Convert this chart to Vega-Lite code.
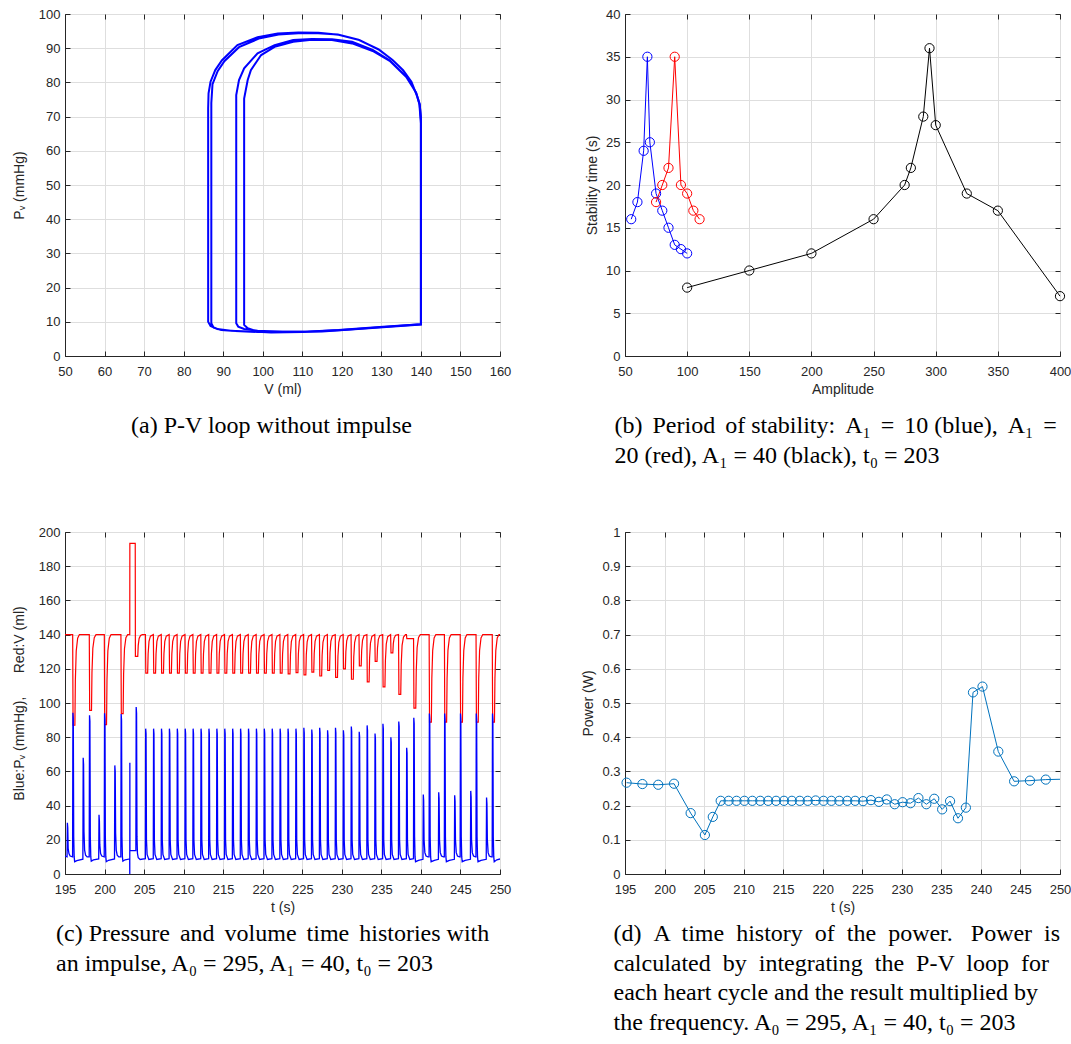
{
  "$schema": "https://vega.github.io/schema/vega-lite/v6.json",
  "padding": {"left": 11, "top": 7, "right": 0, "bottom": 0},
  "datasets": {
    "a1": [
      {"V":140,"P":9.3},{"V":140,"P":70},{"V":139.7,"P":73.6},{"V":139.1,"P":75.8},{"V":137.6,"P":80.2},{"V":135.5,"P":83.6},{"V":132.9,"P":86.5},{"V":129.5,"P":89.5},{"V":124.4,"P":92.4},{"V":119.2,"P":93.9},{"V":114.1,"P":94.5},{"V":109,"P":94.6},{"V":103.8,"P":94.3},{"V":98.7,"P":93.2},{"V":93.6,"P":90.9},{"V":89.7,"P":86.5},{"V":88,"P":83.6},{"V":86.8,"P":80.2},{"V":86.3,"P":76.8},{"V":86.2,"P":72.4},{"V":86.2,"P":10},{"V":86.8,"P":8.8},{"V":88.5,"P":7.9},{"V":91.9,"P":7.4},{"V":97.9,"P":7.1},{"V":110.7,"P":7.1},{"V":119.2,"P":7.6},{"V":129.5,"P":8.5},{"V":140,"P":9.3},
      {"V":140,"P":68},{"V":139.6,"P":73.8},{"V":138.9,"P":76.5},{"V":137.4,"P":80.5},{"V":135.3,"P":83.8},{"V":132.6,"P":86.8},{"V":129.2,"P":89.7},{"V":124.2,"P":92.5},{"V":119,"P":94},{"V":114,"P":94.4},{"V":109,"P":94.4},{"V":104,"P":94},{"V":99,"P":92.8},{"V":94,"P":90.3},{"V":90.3,"P":86.2},{"V":88.6,"P":83.3},{"V":87.3,"P":79.5},{"V":87,"P":74},{"V":87,"P":65},{"V":87,"P":9.6},{"V":87.6,"P":8.3},{"V":89.5,"P":7.6},{"V":93,"P":7.3},{"V":99,"P":7},{"V":110,"P":7},{"V":120,"P":7.6},{"V":130,"P":8.5},{"V":140,"P":9.3}
    ],
    "a2": [
      {"V":140,"P":9.3},{"V":140,"P":69},{"V":139.7,"P":73.5},{"V":138.8,"P":77},{"V":136.3,"P":81.7},{"V":132.1,"P":86.5},{"V":127.8,"P":89.5},{"V":122.6,"P":91.9},{"V":117.5,"P":92.6},{"V":112.4,"P":92.7},{"V":107.7,"P":92.4},{"V":103,"P":90.9},{"V":98.7,"P":88.5},{"V":95.3,"P":84.1},{"V":94,"P":80.7},{"V":93.3,"P":76.3},{"V":93.3,"P":9.6},{"V":93.8,"P":8.6},{"V":95.3,"P":7.9},{"V":98.7,"P":7.4},{"V":105,"P":7.1},{"V":115,"P":7.2},{"V":125,"P":8},{"V":140,"P":9.2},
      {"V":140,"P":69},{"V":139.7,"P":73.4},{"V":138.8,"P":77},{"V":136.3,"P":81.6},{"V":132.1,"P":86.3},{"V":127.8,"P":89.2},{"V":122.6,"P":91.4},{"V":117.5,"P":92.4},{"V":112.4,"P":92.5},{"V":107.7,"P":91.9},{"V":103,"P":90.4},{"V":99.6,"P":88},{"V":97,"P":83.6},{"V":96.2,"P":80.7},{"V":95.3,"P":75.3},{"V":95.3,"P":9.1},{"V":96.2,"P":8.1},{"V":98.7,"P":7.1},{"V":102.1,"P":6.9},{"V":110,"P":7},{"V":120,"P":7.6},{"V":130,"P":8.4},{"V":140,"P":9.3}
    ],
    "b": [
      {"A":55,"T":16,"s":"b"},{"A":60,"T":18,"s":"b"},{"A":65,"T":24,"s":"b"},{"A":68,"T":35,"s":"b"},{"A":70,"T":25,"s":"b"},{"A":75,"T":19,"s":"b"},{"A":80,"T":17,"s":"b"},{"A":85,"T":15,"s":"b"},{"A":90,"T":13,"s":"b"},{"A":95,"T":12.5,"s":"b"},{"A":100,"T":12,"s":"b"},
      {"A":75,"T":18,"s":"r"},{"A":80,"T":20,"s":"r"},{"A":85,"T":22,"s":"r"},{"A":90,"T":35,"s":"r"},{"A":95,"T":20,"s":"r"},{"A":100,"T":19,"s":"r"},{"A":105,"T":17,"s":"r"},{"A":110,"T":16,"s":"r"},
      {"A":100,"T":8,"s":"k"},{"A":150,"T":10,"s":"k"},{"A":200,"T":12,"s":"k"},{"A":250,"T":16,"s":"k"},{"A":275,"T":20,"s":"k"},{"A":280,"T":22,"s":"k"},{"A":290,"T":28,"s":"k"},{"A":295,"T":36,"s":"k"},{"A":300,"T":27,"s":"k"},{"A":325,"T":19,"s":"k"},{"A":350,"T":17,"s":"k"},{"A":400,"T":7,"s":"k"}
    ],
    "cv": [
      {"t":195,"v":140},{"t":195.97,"v":140},{"t":196.02,"v":87},{"t":196.25,"v":87},{"t":196.31,"v":113.5},{"t":196.42,"v":130.5},{"t":196.6,"v":137.9},{"t":196.82,"v":140},
      {"t":198.07,"v":140},{"t":198.12,"v":95.7},{"t":198.35,"v":95.7},{"t":198.41,"v":117.9},{"t":198.52,"v":132},{"t":198.7,"v":138.2},{"t":198.92,"v":140},
      {"t":199.97,"v":140},{"t":200.02,"v":87.3},{"t":200.25,"v":87.3},{"t":200.31,"v":113.7},{"t":200.42,"v":130.5},{"t":200.6,"v":137.9},{"t":200.82,"v":140},
      {"t":202.07,"v":140},{"t":202.12,"v":93.8},{"t":202.35,"v":93.8},{"t":202.41,"v":116.9},{"t":202.52,"v":131.7},{"t":202.7,"v":138.2},{"t":202.92,"v":140},
      {"t":203.19,"v":140},{"t":203.2,"v":193.4},{"t":203.88,"v":193.4},{"t":203.9,"v":127.3},{"t":204.2,"v":127.3},{"t":204.26,"v":133.7},{"t":204.37,"v":137.7},{"t":204.55,"v":139.5},{"t":204.77,"v":140},
      {"t":205.17,"v":140},{"t":205.22,"v":117.5},{"t":205.45,"v":117.5},{"t":205.51,"v":128.8},{"t":205.62,"v":136},{"t":205.8,"v":139.1},
      {"t":206.17,"v":140},{"t":206.22,"v":117.5},{"t":206.45,"v":117.5},{"t":206.51,"v":128.8},{"t":206.62,"v":136},{"t":206.8,"v":139.1},
      {"t":207.17,"v":140},{"t":207.22,"v":117.5},{"t":207.45,"v":117.5},{"t":207.51,"v":128.8},{"t":207.62,"v":136},{"t":207.8,"v":139.1},
      {"t":208.17,"v":140},{"t":208.22,"v":117.5},{"t":208.45,"v":117.5},{"t":208.51,"v":128.8},{"t":208.62,"v":136},{"t":208.8,"v":139.1},
      {"t":209.17,"v":140},{"t":209.22,"v":117.5},{"t":209.45,"v":117.5},{"t":209.51,"v":128.8},{"t":209.62,"v":136},{"t":209.8,"v":139.1},
      {"t":210.17,"v":140},{"t":210.22,"v":117.5},{"t":210.45,"v":117.5},{"t":210.51,"v":128.8},{"t":210.62,"v":136},{"t":210.8,"v":139.1},
      {"t":211.17,"v":140},{"t":211.22,"v":117.5},{"t":211.45,"v":117.5},{"t":211.51,"v":128.8},{"t":211.62,"v":136},{"t":211.8,"v":139.1},
      {"t":212.17,"v":140},{"t":212.22,"v":117.5},{"t":212.45,"v":117.5},{"t":212.51,"v":128.8},{"t":212.62,"v":136},{"t":212.8,"v":139.1},
      {"t":213.17,"v":140},{"t":213.22,"v":117.5},{"t":213.45,"v":117.5},{"t":213.51,"v":128.8},{"t":213.62,"v":136},{"t":213.8,"v":139.1},
      {"t":214.17,"v":140},{"t":214.22,"v":117.5},{"t":214.45,"v":117.5},{"t":214.51,"v":128.8},{"t":214.62,"v":136},{"t":214.8,"v":139.1},
      {"t":215.17,"v":140},{"t":215.22,"v":117.5},{"t":215.45,"v":117.5},{"t":215.51,"v":128.8},{"t":215.62,"v":136},{"t":215.8,"v":139.1},
      {"t":216.17,"v":140},{"t":216.22,"v":117.5},{"t":216.45,"v":117.5},{"t":216.51,"v":128.8},{"t":216.62,"v":136},{"t":216.8,"v":139.1},
      {"t":217.17,"v":140},{"t":217.22,"v":117.5},{"t":217.45,"v":117.5},{"t":217.51,"v":128.8},{"t":217.62,"v":136},{"t":217.8,"v":139.1},
      {"t":218.17,"v":140},{"t":218.22,"v":117.5},{"t":218.45,"v":117.5},{"t":218.51,"v":128.8},{"t":218.62,"v":136},{"t":218.8,"v":139.1},
      {"t":219.17,"v":140},{"t":219.22,"v":117.5},{"t":219.45,"v":117.5},{"t":219.51,"v":128.8},{"t":219.62,"v":136},{"t":219.8,"v":139.1},
      {"t":220.17,"v":140},{"t":220.22,"v":117.5},{"t":220.45,"v":117.5},{"t":220.51,"v":128.8},{"t":220.62,"v":136},{"t":220.8,"v":139.1},
      {"t":221.17,"v":140},{"t":221.22,"v":117.5},{"t":221.45,"v":117.5},{"t":221.51,"v":128.8},{"t":221.62,"v":136},{"t":221.8,"v":139.1},
      {"t":222.17,"v":140},{"t":222.22,"v":117.5},{"t":222.45,"v":117.5},{"t":222.51,"v":128.8},{"t":222.62,"v":136},{"t":222.8,"v":139.1},
      {"t":223.17,"v":140},{"t":223.22,"v":117},{"t":223.45,"v":117},{"t":223.51,"v":128.5},{"t":223.62,"v":135.9},{"t":223.8,"v":139.1},
      {"t":224.17,"v":140},{"t":224.22,"v":117.8},{"t":224.45,"v":117.8},{"t":224.51,"v":128.9},{"t":224.62,"v":136},{"t":224.8,"v":139.1},
      {"t":225.17,"v":140},{"t":225.22,"v":116.5},{"t":225.45,"v":116.5},{"t":225.51,"v":128.3},{"t":225.62,"v":135.8},{"t":225.8,"v":139.1},
      {"t":226.17,"v":140},{"t":226.22,"v":118},{"t":226.45,"v":118},{"t":226.51,"v":129},{"t":226.62,"v":136},{"t":226.8,"v":139.1},
      {"t":227.17,"v":140},{"t":227.22,"v":115.8},{"t":227.45,"v":115.8},{"t":227.51,"v":127.9},{"t":227.62,"v":135.6},{"t":227.8,"v":139},
      {"t":228.17,"v":140},{"t":228.22,"v":119},{"t":228.45,"v":119},{"t":228.51,"v":129.5},{"t":228.62,"v":136.2},{"t":228.8,"v":139.2},
      {"t":229.17,"v":140},{"t":229.22,"v":115},{"t":229.45,"v":115},{"t":229.51,"v":127.5},{"t":229.62,"v":135.5},{"t":229.8,"v":139},
      {"t":230.17,"v":140},{"t":230.22,"v":120},{"t":230.45,"v":120},{"t":230.51,"v":130},{"t":230.62,"v":136.4},{"t":230.8,"v":139.2},
      {"t":231.17,"v":140},{"t":231.22,"v":113.9},{"t":231.45,"v":113.9},{"t":231.51,"v":127},{"t":231.62,"v":135.3},{"t":231.8,"v":139},
      {"t":232.17,"v":140},{"t":232.22,"v":121.7},{"t":232.45,"v":121.7},{"t":232.51,"v":130.9},{"t":232.62,"v":136.7},{"t":232.8,"v":139.3},
      {"t":233.17,"v":140},{"t":233.22,"v":112.3},{"t":233.45,"v":112.3},{"t":233.51,"v":126.2},{"t":233.62,"v":135},{"t":233.8,"v":138.9},
      {"t":234.17,"v":140},{"t":234.22,"v":124.4},{"t":234.45,"v":124.4},{"t":234.51,"v":132.2},{"t":234.62,"v":137.2},{"t":234.8,"v":139.4},
      {"t":235.17,"v":140},{"t":235.22,"v":109.4},{"t":235.45,"v":109.4},{"t":235.51,"v":124.7},{"t":235.62,"v":134.5},{"t":235.8,"v":138.8},
      {"t":236.17,"v":140},{"t":236.22,"v":129.3},{"t":236.45,"v":129.3},{"t":236.51,"v":134.7},{"t":236.62,"v":138.1},{"t":236.8,"v":139.6},
      {"t":237.17,"v":140},{"t":237.22,"v":105.1},{"t":237.45,"v":105.1},{"t":237.51,"v":122.6},{"t":237.62,"v":133.7},{"t":237.8,"v":138.6},
      {"t":238.05,"v":140},{"t":238.17,"v":140},{"t":238.22,"v":137.7},{"t":239.07,"v":137.7},{"t":239.12,"v":97},{"t":239.35,"v":97},{"t":239.41,"v":118.5},{"t":239.52,"v":132.3},{"t":239.7,"v":138.3},{"t":239.92,"v":140},
      {"t":241.04,"v":140},{"t":241.09,"v":88.8},{"t":241.32,"v":88.8},{"t":241.38,"v":114.4},{"t":241.49,"v":130.8},{"t":241.67,"v":138},{"t":241.89,"v":140},
      {"t":242.97,"v":140},{"t":243.02,"v":88.8},{"t":243.25,"v":88.8},{"t":243.31,"v":114.4},{"t":243.42,"v":130.8},{"t":243.6,"v":138},{"t":243.82,"v":140},
      {"t":244.97,"v":140},{"t":245.02,"v":88.8},{"t":245.25,"v":88.8},{"t":245.31,"v":114.4},{"t":245.42,"v":130.8},{"t":245.6,"v":138},{"t":245.82,"v":140},
      {"t":246.97,"v":140},{"t":247.02,"v":88.8},{"t":247.25,"v":88.8},{"t":247.31,"v":114.4},{"t":247.42,"v":130.8},{"t":247.6,"v":138},{"t":247.82,"v":140},
      {"t":249.02,"v":140},{"t":249.07,"v":88.8},{"t":249.3,"v":88.8},{"t":249.36,"v":114.4},{"t":249.47,"v":130.8},{"t":249.65,"v":138},{"t":249.87,"v":140},
      {"t":250,"v":140}
    ],
    "cp": [
      {"t":195,"p":10.5},{"t":195.26,"p":10},{"t":195.3,"p":30},{"t":195.35,"p":27},{"t":195.4,"p":15},{"t":195.5,"p":12},{"t":195.65,"p":10.5},{"t":195.96,"p":10},
      {"t":196,"p":94.3},{"t":196.05,"p":91},{"t":196.1,"p":22},{"t":196.16,"p":10},{"t":196.22,"p":7.2},{"t":196.5,"p":7.8},
      {"t":197.26,"p":8.7},{"t":197.3,"p":68},{"t":197.35,"p":64},{"t":197.4,"p":25},{"t":197.48,"p":14},{"t":197.6,"p":11},{"t":197.8,"p":10},
      {"t":198.06,"p":10},{"t":198.1,"p":92.8},{"t":198.15,"p":89.5},{"t":198.2,"p":22},{"t":198.26,"p":10},{"t":198.32,"p":7.5},{"t":198.6,"p":8.2},
      {"t":199.26,"p":8.8},{"t":199.3,"p":34.6},{"t":199.35,"p":31},{"t":199.4,"p":17},{"t":199.5,"p":12},{"t":199.65,"p":10.5},{"t":199.96,"p":10},
      {"t":200,"p":94},{"t":200.05,"p":90.5},{"t":200.1,"p":22},{"t":200.16,"p":10},{"t":200.22,"p":7.2},{"t":200.5,"p":8},
      {"t":201.26,"p":8.8},{"t":201.3,"p":63.5},{"t":201.35,"p":60},{"t":201.4,"p":24},{"t":201.48,"p":14},{"t":201.6,"p":11},{"t":201.8,"p":10},
      {"t":202.06,"p":10},{"t":202.1,"p":93.5},{"t":202.15,"p":90},{"t":202.2,"p":22},{"t":202.26,"p":10},{"t":202.32,"p":7.5},{"t":202.6,"p":8.3},
      {"t":203.18,"p":8.8},{"t":203.19,"p":0},{"t":203.2,"p":65},{"t":203.21,"p":13.7},{"t":203.96,"p":13.7},
      {"t":204,"p":97.6},{"t":204.05,"p":94},{"t":204.1,"p":22},{"t":204.16,"p":12},{"t":204.26,"p":9.5},{"t":204.5,"p":8.5},
      {"t":205.16,"p":9},{"t":205.2,"p":85},{"t":205.25,"p":82},{"t":205.3,"p":20},{"t":205.38,"p":11.5},{"t":205.6,"p":8.5},
      {"t":206.16,"p":9},{"t":206.2,"p":85},{"t":206.25,"p":82},{"t":206.3,"p":20},{"t":206.38,"p":11.5},{"t":206.6,"p":8.5},
      {"t":207.16,"p":9},{"t":207.2,"p":85},{"t":207.25,"p":82},{"t":207.3,"p":20},{"t":207.38,"p":11.5},{"t":207.6,"p":8.5},
      {"t":208.16,"p":9},{"t":208.2,"p":85},{"t":208.25,"p":82},{"t":208.3,"p":20},{"t":208.38,"p":11.5},{"t":208.6,"p":8.5},
      {"t":209.16,"p":9},{"t":209.2,"p":85},{"t":209.25,"p":82},{"t":209.3,"p":20},{"t":209.38,"p":11.5},{"t":209.6,"p":8.5},
      {"t":210.16,"p":9},{"t":210.2,"p":85},{"t":210.25,"p":82},{"t":210.3,"p":20},{"t":210.38,"p":11.5},{"t":210.6,"p":8.5},
      {"t":211.16,"p":9},{"t":211.2,"p":85},{"t":211.25,"p":82},{"t":211.3,"p":20},{"t":211.38,"p":11.5},{"t":211.6,"p":8.5},
      {"t":212.16,"p":9},{"t":212.2,"p":85},{"t":212.25,"p":82},{"t":212.3,"p":20},{"t":212.38,"p":11.5},{"t":212.6,"p":8.5},
      {"t":213.16,"p":9},{"t":213.2,"p":85},{"t":213.25,"p":82},{"t":213.3,"p":20},{"t":213.38,"p":11.5},{"t":213.6,"p":8.5},
      {"t":214.16,"p":9},{"t":214.2,"p":85},{"t":214.25,"p":82},{"t":214.3,"p":20},{"t":214.38,"p":11.5},{"t":214.6,"p":8.5},
      {"t":215.16,"p":9},{"t":215.2,"p":85},{"t":215.25,"p":82},{"t":215.3,"p":20},{"t":215.38,"p":11.5},{"t":215.6,"p":8.5},
      {"t":216.16,"p":9},{"t":216.2,"p":85},{"t":216.25,"p":82},{"t":216.3,"p":20},{"t":216.38,"p":11.5},{"t":216.6,"p":8.5},
      {"t":217.16,"p":9},{"t":217.2,"p":85},{"t":217.25,"p":82},{"t":217.3,"p":20},{"t":217.38,"p":11.5},{"t":217.6,"p":8.5},
      {"t":218.16,"p":9},{"t":218.2,"p":85},{"t":218.25,"p":82},{"t":218.3,"p":20},{"t":218.38,"p":11.5},{"t":218.6,"p":8.5},
      {"t":219.16,"p":9},{"t":219.2,"p":85},{"t":219.25,"p":82},{"t":219.3,"p":20},{"t":219.38,"p":11.5},{"t":219.6,"p":8.5},
      {"t":220.16,"p":9},{"t":220.2,"p":85},{"t":220.25,"p":82},{"t":220.3,"p":20},{"t":220.38,"p":11.5},{"t":220.6,"p":8.5},
      {"t":221.16,"p":9},{"t":221.2,"p":85},{"t":221.25,"p":82},{"t":221.3,"p":20},{"t":221.38,"p":11.5},{"t":221.6,"p":8.5},
      {"t":222.16,"p":9},{"t":222.2,"p":85},{"t":222.25,"p":82},{"t":222.3,"p":20},{"t":222.38,"p":11.5},{"t":222.6,"p":8.5},
      {"t":223.16,"p":9},{"t":223.2,"p":85},{"t":223.25,"p":82},{"t":223.3,"p":20},{"t":223.38,"p":11.5},{"t":223.6,"p":8.5},
      {"t":224.16,"p":9},{"t":224.2,"p":85},{"t":224.25,"p":82},{"t":224.3,"p":20},{"t":224.38,"p":11.5},{"t":224.6,"p":8.5},
      {"t":225.16,"p":9},{"t":225.2,"p":85.5},{"t":225.25,"p":82.5},{"t":225.3,"p":20},{"t":225.38,"p":11.5},{"t":225.6,"p":8.5},
      {"t":226.16,"p":9},{"t":226.2,"p":84.5},{"t":226.25,"p":81.5},{"t":226.3,"p":20},{"t":226.38,"p":11.5},{"t":226.6,"p":8.5},
      {"t":227.16,"p":9},{"t":227.2,"p":85.5},{"t":227.25,"p":82.5},{"t":227.3,"p":20},{"t":227.38,"p":11.5},{"t":227.6,"p":8.5},
      {"t":228.16,"p":9},{"t":228.2,"p":84},{"t":228.25,"p":81},{"t":228.3,"p":20},{"t":228.38,"p":11.5},{"t":228.6,"p":8.5},
      {"t":229.16,"p":9},{"t":229.2,"p":85.5},{"t":229.25,"p":82.5},{"t":229.3,"p":20},{"t":229.38,"p":11.5},{"t":229.6,"p":8.5},
      {"t":230.16,"p":9},{"t":230.2,"p":84},{"t":230.25,"p":81},{"t":230.3,"p":20},{"t":230.38,"p":11.5},{"t":230.6,"p":8.5},
      {"t":231.16,"p":9},{"t":231.2,"p":86.3},{"t":231.25,"p":83.3},{"t":231.3,"p":20},{"t":231.38,"p":11.5},{"t":231.6,"p":8.5},
      {"t":232.16,"p":9},{"t":232.2,"p":83.2},{"t":232.25,"p":80.2},{"t":232.3,"p":20},{"t":232.38,"p":11.5},{"t":232.6,"p":8.5},
      {"t":233.16,"p":9},{"t":233.2,"p":86.9},{"t":233.25,"p":83.9},{"t":233.3,"p":20},{"t":233.38,"p":11.5},{"t":233.6,"p":8.5},
      {"t":234.16,"p":9},{"t":234.2,"p":82.2},{"t":234.25,"p":79.2},{"t":234.3,"p":20},{"t":234.38,"p":11.5},{"t":234.6,"p":8.5},
      {"t":235.16,"p":9},{"t":235.2,"p":87.9},{"t":235.25,"p":84.9},{"t":235.3,"p":20},{"t":235.38,"p":11.5},{"t":235.6,"p":8.5},
      {"t":236.16,"p":9},{"t":236.2,"p":80},{"t":236.25,"p":77},{"t":236.3,"p":20},{"t":236.38,"p":11.5},{"t":236.6,"p":8.5},
      {"t":237.16,"p":9},{"t":237.2,"p":89.2},{"t":237.25,"p":86.2},{"t":237.3,"p":20},{"t":237.38,"p":11.5},{"t":237.6,"p":8.5},
      {"t":238.16,"p":9},{"t":238.2,"p":73.8},{"t":238.25,"p":70.8},{"t":238.3,"p":20},{"t":238.38,"p":11.5},{"t":238.6,"p":8.5},
      {"t":239.06,"p":9},{"t":239.1,"p":91.4},{"t":239.15,"p":88},{"t":239.2,"p":22},{"t":239.26,"p":10},{"t":239.32,"p":7.2},{"t":239.7,"p":8},
      {"t":240.26,"p":8.6},{"t":240.3,"p":46.5},{"t":240.35,"p":43},{"t":240.4,"p":20},{"t":240.5,"p":12.5},{"t":240.65,"p":10.5},{"t":240.9,"p":10},{"t":241.03,"p":10},
      {"t":241.07,"p":93.8},{"t":241.12,"p":90.5},{"t":241.17,"p":22},{"t":241.23,"p":10},{"t":241.29,"p":7.2},{"t":241.7,"p":8},
      {"t":242.21,"p":8.6},{"t":242.25,"p":47.8},{"t":242.3,"p":44},{"t":242.35,"p":20},{"t":242.45,"p":12.5},{"t":242.6,"p":10.5},{"t":242.85,"p":10},{"t":242.96,"p":10},
      {"t":243,"p":93.8},{"t":243.05,"p":90.5},{"t":243.1,"p":22},{"t":243.16,"p":10},{"t":243.22,"p":7.2},{"t":243.6,"p":8},
      {"t":244.23,"p":8.6},{"t":244.27,"p":46.1},{"t":244.32,"p":42.5},{"t":244.37,"p":20},{"t":244.47,"p":12.5},{"t":244.62,"p":10.5},{"t":244.87,"p":10},{"t":244.96,"p":10},
      {"t":245,"p":93.8},{"t":245.05,"p":90.5},{"t":245.1,"p":22},{"t":245.16,"p":10},{"t":245.22,"p":7.2},{"t":245.6,"p":8},
      {"t":246.26,"p":8.6},{"t":246.3,"p":48.6},{"t":246.35,"p":45},{"t":246.4,"p":20},{"t":246.5,"p":12.5},{"t":246.65,"p":10.5},{"t":246.9,"p":10},{"t":246.96,"p":10},
      {"t":247,"p":93.8},{"t":247.05,"p":90.5},{"t":247.1,"p":22},{"t":247.16,"p":10},{"t":247.22,"p":7.2},{"t":247.6,"p":8},
      {"t":248.26,"p":8.6},{"t":248.3,"p":44.7},{"t":248.35,"p":41},{"t":248.4,"p":20},{"t":248.5,"p":12.5},{"t":248.65,"p":10.5},{"t":248.9,"p":10},{"t":249.01,"p":10},
      {"t":249.05,"p":93.8},{"t":249.1,"p":90.5},{"t":249.15,"p":22},{"t":249.21,"p":10},{"t":249.27,"p":7.2},{"t":249.6,"p":8.3},{"t":250,"p":8.8}
    ],
    "d": [
      {"t":195.2,"w":0.267},{"t":197.2,"w":0.263},{"t":199.2,"w":0.261},{"t":201.2,"w":0.264},{"t":203.3,"w":0.178},{"t":205.1,"w":0.114},{"t":206.1,"w":0.167},{"t":207.1,"w":0.214},{"t":208.1,"w":0.214},{"t":209.1,"w":0.214},{"t":210.1,"w":0.214},{"t":211.1,"w":0.214},{"t":212.1,"w":0.214},{"t":213.1,"w":0.214},{"t":214.1,"w":0.214},{"t":215.1,"w":0.214},{"t":216.1,"w":0.214},{"t":217.1,"w":0.214},{"t":218.1,"w":0.214},{"t":219.1,"w":0.215},{"t":220.1,"w":0.214},{"t":221.1,"w":0.214},{"t":222.1,"w":0.214},{"t":223.1,"w":0.214},{"t":224.1,"w":0.214},{"t":225.1,"w":0.213},{"t":226.1,"w":0.216},{"t":227.1,"w":0.211},{"t":228.1,"w":0.218},{"t":229.1,"w":0.204},{"t":230.1,"w":0.21},{"t":231.1,"w":0.207},{"t":232.1,"w":0.222},{"t":233.1,"w":0.204},{"t":234.1,"w":0.22},{"t":235.1,"w":0.189},{"t":236.1,"w":0.213},{"t":237.1,"w":0.163},{"t":238.1,"w":0.194},{"t":239,"w":0.531},{"t":240.2,"w":0.548},{"t":242.2,"w":0.358},{"t":244.2,"w":0.271},{"t":246.2,"w":0.273},{"t":248.2,"w":0.276},{"t":250,"w":0.277}
    ]
  },
  "columns": 2,
  "spacing": {"row": 176, "column": 125},
  "bounds": "flush",
  "concat": [
    {
      "width": 435,
      "height": 342,
      "title": {"text": "(a) P-V loop without impulse", "anchor": "middle", "dx": -11, "offset": 18},
      "layer": [
        {
          "data": {"name": "a1"},
          "mark": {"type": "line", "color": "#0000ff", "strokeWidth": 2, "clip": true},
          "encoding": {
            "x": {"field": "V", "type": "quantitative", "scale": {"domain": [50, 160], "nice": false, "zero": false},
              "axis": {"title": "V (ml)", "values": [50, 60, 70, 80, 90, 100, 110, 120, 130, 140, 150, 160]}},
            "y": {"field": "P", "type": "quantitative", "scale": {"domain": [0, 100], "nice": false},
              "axis": {"title": "Pᵥ (mmHg)", "titlePadding": 12, "values": [0, 10, 20, 30, 40, 50, 60, 70, 80, 90, 100]}},
            "order": {"value": null}
          }
        },
        {
          "data": {"name": "a2"},
          "mark": {"type": "line", "color": "#0000ff", "strokeWidth": 2, "clip": true},
          "encoding": {
            "x": {"field": "V", "type": "quantitative", "scale": {"domain": [50, 160], "nice": false, "zero": false},
              "axis": {"orient": "top", "labels": false, "title": null, "grid": false, "domain": false, "values": [50, 60, 70, 80, 90, 100, 110, 120, 130, 140, 150, 160]}},
            "y": {"field": "P", "type": "quantitative", "scale": {"domain": [0, 100], "nice": false},
              "axis": {"orient": "right", "labels": false, "title": null, "grid": false, "domain": false, "values": [0, 10, 20, 30, 40, 50, 60, 70, 80, 90, 100]}},
            "order": {"value": null}
          }
        }
      ],
      "resolve": {"axis": {"x": "independent", "y": "independent"}}
    },
    {
      "width": 435,
      "height": 342,
      "title": {"text": ["(b) \u2006Period \u2006of stability: \u2006A₁ \u2006= \u200610 (blue), \u2006A₁ \u2006=", "20 (red), A₁ = 40 (black), t₀ = 203"], "dx": -10.5, "offset": 18},
      "data": {"name": "b"},
      "encoding": {
        "color": {"field": "s", "type": "nominal", "scale": {"domain": ["b", "r", "k"], "range": ["#0000ff", "#ff0000", "#000000"]}, "legend": null}
      },
      "layer": [
        {
          "mark": {"type": "line", "strokeWidth": 1},
          "encoding": {
            "x": {"field": "A", "type": "quantitative", "scale": {"domain": [50, 400], "nice": false, "zero": false},
              "axis": {"title": "Amplitude", "values": [50, 100, 150, 200, 250, 300, 350, 400]}},
            "y": {"field": "T", "type": "quantitative", "scale": {"domain": [0, 40], "nice": false},
              "axis": {"title": "Stability time (s)", "titlePadding": 6, "values": [0, 5, 10, 15, 20, 25, 30, 35, 40]}}
          }
        },
        {
          "mark": {"type": "point", "shape": "circle", "filled": false, "size": 85, "strokeWidth": 1, "opacity": 1},
          "encoding": {
            "x": {"field": "A", "type": "quantitative", "scale": {"domain": [50, 400], "nice": false, "zero": false},
              "axis": {"orient": "top", "labels": false, "title": null, "grid": false, "domain": false, "values": [50, 100, 150, 200, 250, 300, 350, 400]}},
            "y": {"field": "T", "type": "quantitative", "scale": {"domain": [0, 40], "nice": false},
              "axis": {"orient": "right", "labels": false, "title": null, "grid": false, "domain": false, "values": [0, 5, 10, 15, 20, 25, 30, 35, 40]}}
          }
        }
      ],
      "resolve": {"axis": {"x": "independent", "y": "independent"}}
    },
    {
      "width": 435,
      "height": 342,
      "title": {"text": ["(c) Pressure \u2006and \u2006volume \u2006time \u2006histories with", "an impulse, A₀ = 295, A₁ = 40, t₀ = 203"], "dx": -9, "offset": 8},
      "layer": [
        {
          "data": {"name": "cv"},
          "mark": {"type": "line", "color": "#ff0000", "strokeWidth": 1.2, "clip": true},
          "encoding": {
            "x": {"field": "t", "type": "quantitative", "scale": {"domain": [195, 250], "nice": false, "zero": false},
              "axis": {"title": "t (s)", "values": [195, 200, 205, 210, 215, 220, 225, 230, 235, 240, 245, 250]}},
            "y": {"field": "v", "type": "quantitative", "scale": {"domain": [0, 200], "nice": false},
              "axis": {"title": "Blue:Pᵥ (mmHg),\u00a0\u00a0\u00a0\u00a0\u00a0\u00a0Red:V (ml)", "titlePadding": 12, "values": [0, 20, 40, 60, 80, 100, 120, 140, 160, 180, 200]}},
            "order": {"value": null}
          }
        },
        {
          "data": {"name": "cp"},
          "mark": {"type": "line", "color": "#0000ff", "strokeWidth": 1.3, "clip": true},
          "encoding": {
            "x": {"field": "t", "type": "quantitative", "scale": {"domain": [195, 250], "nice": false, "zero": false},
              "axis": {"orient": "top", "labels": false, "title": null, "grid": false, "domain": false, "values": [195, 200, 205, 210, 215, 220, 225, 230, 235, 240, 245, 250]}},
            "y": {"field": "p", "type": "quantitative", "scale": {"domain": [0, 200], "nice": false},
              "axis": {"orient": "right", "labels": false, "title": null, "grid": false, "domain": false, "values": [0, 20, 40, 60, 80, 100, 120, 140, 160, 180, 200]}},
            "order": {"value": null}
          }
        }
      ],
      "resolve": {"axis": {"x": "independent", "y": "independent"}}
    },
    {
      "width": 435,
      "height": 342,
      "title": {"text": ["(d) \u00a0A \u00a0time \u00a0history \u00a0of \u00a0the \u00a0power. \u00a0 Power \u00a0is", "calculated \u00a0by \u00a0integrating \u00a0the \u00a0P-V \u00a0loop \u00a0for", "each heart cycle and the result multiplied by", "the frequency. A₀ = 295, A₁ = 40, t₀ = 203"], "dx": -11.5, "offset": 8},
      "data": {"name": "d"},
      "layer": [
        {
          "mark": {"type": "line", "color": "#0072bd", "strokeWidth": 1},
          "encoding": {
            "x": {"field": "t", "type": "quantitative", "scale": {"domain": [195, 250], "nice": false, "zero": false},
              "axis": {"title": "t (s)", "values": [195, 200, 205, 210, 215, 220, 225, 230, 235, 240, 245, 250]}},
            "y": {"field": "w", "type": "quantitative", "scale": {"domain": [0, 1], "nice": false},
              "axis": {"title": "Power (W)", "titlePadding": 6, "format": "~g", "values": [0, 0.1, 0.2, 0.3, 0.4, 0.5, 0.6, 0.7, 0.8, 0.9, 1]}}
          }
        },
        {
          "transform": [{"filter": "datum.t < 250"}],
          "mark": {"type": "point", "shape": "circle", "filled": false, "size": 85, "strokeWidth": 1, "color": "#0072bd", "opacity": 1},
          "encoding": {
            "x": {"field": "t", "type": "quantitative", "scale": {"domain": [195, 250], "nice": false, "zero": false},
              "axis": {"orient": "top", "labels": false, "title": null, "grid": false, "domain": false, "values": [195, 200, 205, 210, 215, 220, 225, 230, 235, 240, 245, 250]}},
            "y": {"field": "w", "type": "quantitative", "scale": {"domain": [0, 1], "nice": false},
              "axis": {"orient": "right", "labels": false, "title": null, "grid": false, "domain": false, "values": [0, 0.1, 0.2, 0.3, 0.4, 0.5, 0.6, 0.7, 0.8, 0.9, 1]}}
          }
        }
      ],
      "resolve": {"axis": {"x": "independent", "y": "independent"}}
    }
  ],
  "config": {
    "font": "Liberation Sans",
    "background": "#ffffff",
    "view": {"stroke": "#262626", "strokeWidth": 1},
    "axis": {
      "tickSize": -5,
      "tickColor": "#262626",
      "domainColor": "#262626",
      "gridColor": "#dedede",
      "gridWidth": 1,
      "labelFont": "Liberation Sans",
      "labelFontSize": 13,
      "labelColor": "#262626",
      "labelFlush": false,
      "labelOverlap": false,
      "titleFont": "Liberation Sans",
      "titleFontSize": 14,
      "titleFontWeight": "normal",
      "titleColor": "#262626",
      "titlePadding": 4
    },
    "axisX": {"labelPadding": 14},
    "axisY": {"labelPadding": 10},
    "title": {
      "orient": "bottom",
      "frame": "group",
      "anchor": "start",
      "baseline": "alphabetic",
      "font": "Liberation Serif",
      "fontSize": 24,
      "fontWeight": "normal",
      "color": "#000000",
      "lineHeight": 29.5
    }
  }
}
